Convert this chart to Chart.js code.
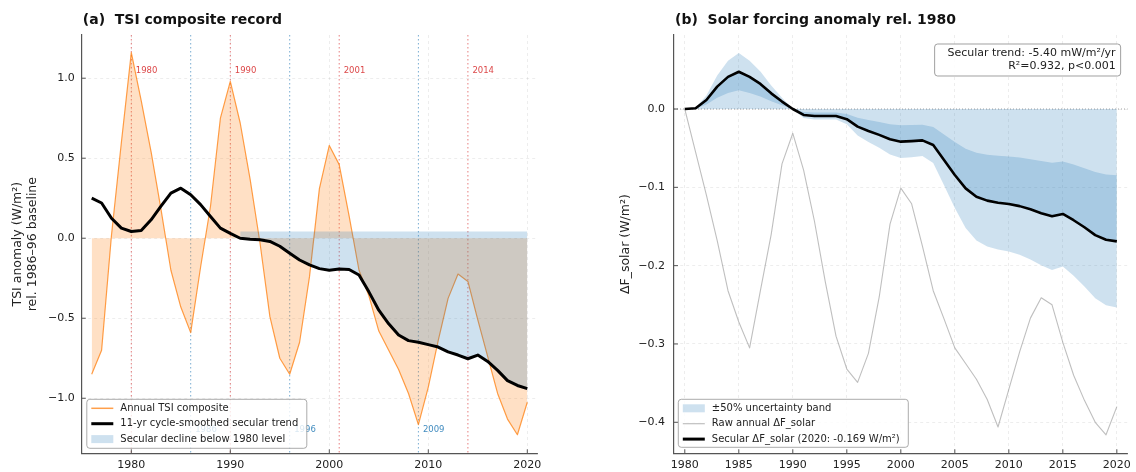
<!DOCTYPE html>
<html lang="en">
<head>
<meta charset="utf-8">
<title>TSI composite and solar forcing</title>
<script src="https://cdn.jsdelivr.net/npm/chart.js@4.4.1/dist/chart.umd.min.js"></script>
<style>
  html, body { margin: 0; padding: 0; background: #fff; }
  #wrap { position: relative; width: 1136px; height: 472px; overflow: hidden; }
  #wrap canvas { position: absolute; top: 0; }
  #chartA { left: 0; }
  #chartB { left: 560px; }
</style>
</head>
<body>
<div id="wrap">
  <canvas id="chartA" width="560" height="472"></canvas>
  <canvas id="chartB" width="576" height="472"></canvas>
</div>

<script>
// ---- panel (a): TSI composite, W/m2 relative to the 1986-96 baseline
const tsiYears = [1976, 1977, 1978, 1979, 1980, 1981, 1982, 1983, 1984, 1985,
  1986, 1987, 1988, 1989, 1990, 1991, 1992, 1993, 1994, 1995,
  1996, 1997, 1998, 1999, 2000, 2001, 2002, 2003, 2004, 2005,
  2006, 2007, 2008, 2009, 2010, 2011, 2012, 2013, 2014, 2015,
  2016, 2017, 2018, 2019, 2020];
const tsiAnnual = [-0.85, -0.70, 0.02, 0.60, 1.16, 0.86, 0.54, 0.18, -0.20, -0.43,
  -0.59, -0.18, 0.20, 0.75, 0.98, 0.72, 0.37, -0.03, -0.49, -0.75,
  -0.85, -0.65, -0.24, 0.31, 0.58, 0.46, 0.14, -0.20, -0.36, -0.58,
  -0.70, -0.82, -0.97, -1.165, -0.93, -0.64, -0.376, -0.224, -0.27, -0.51,
  -0.74, -0.97, -1.13, -1.228, -1.025];
const tsiSecular = [0.25, 0.22, 0.125, 0.063, 0.042, 0.048, 0.115, 0.20, 0.282, 0.313,
  0.272, 0.21, 0.136, 0.063, 0.03, 0.0, -0.006, -0.01, -0.02, -0.05,
  -0.094, -0.136, -0.167, -0.19, -0.20, -0.193, -0.195, -0.23, -0.335, -0.45,
  -0.535, -0.605, -0.64, -0.65, -0.665, -0.68, -0.71, -0.73, -0.753, -0.73,
  -0.77, -0.826, -0.89, -0.92, -0.94];
const cycleMaxYears = [1980, 1990, 2001, 2014];
const cycleMinYears = [1986, 1996, 2009];
const declineFrom = 1991;
const leftXTicks = [1980, 1990, 2000, 2010, 2020];
const leftYTicks = [-1.0, -0.5, 0.0, 0.5, 1.0];

// ---- panel (b): solar forcing anomaly, W/m2 relative to 1980
const dfYears = [1980, 1981, 1982, 1983, 1984, 1985, 1986, 1987, 1988, 1989,
  1990, 1991, 1992, 1993, 1994, 1995, 1996, 1997, 1998, 1999,
  2000, 2001, 2002, 2003, 2004, 2005, 2006, 2007, 2008, 2009,
  2010, 2011, 2012, 2013, 2014, 2015, 2016, 2017, 2018, 2019, 2020];
const dfRaw = [0.0, -0.055, -0.11, -0.168, -0.232, -0.272, -0.305, -0.232, -0.16, -0.07,
  -0.031, -0.078, -0.143, -0.22, -0.29, -0.332, -0.349, -0.312, -0.24, -0.147,
  -0.101, -0.121, -0.175, -0.232, -0.268, -0.305, -0.325, -0.345, -0.371, -0.406,
  -0.358, -0.31, -0.267, -0.241, -0.25, -0.298, -0.34, -0.372, -0.40, -0.416, -0.38];
const dfSecular = [0.0, 0.001, 0.0115, 0.0286, 0.041, 0.0476, 0.041, 0.032, 0.020, 0.0095,
  0.0, -0.0076, -0.009, -0.009, -0.009, -0.013, -0.0225, -0.028, -0.033, -0.0387,
  -0.0417, -0.041, -0.040, -0.046, -0.065, -0.0843, -0.1013, -0.112, -0.117, -0.1196,
  -0.1213, -0.124, -0.128, -0.133, -0.137, -0.134, -0.142, -0.151, -0.161, -0.167, -0.169];
const rightXTicks = [1980, 1985, 1990, 1995, 2000, 2005, 2010, 2015, 2020];
const rightYTicks = [-0.4, -0.3, -0.2, -0.1, 0.0];
const trendNote = ['Secular trend: -5.40 mW/m\u00b2/yr', 'R\u00b2=0.932, p<0.001'];

const FONT = 'DejaVu Sans';
const BLUE_FILL = 'rgba(31,119,180,0.22)';
Chart.defaults.font.family = FONT;
Chart.defaults.color = '#222';

const pts = (xs, ys) => xs.map((x, i) => ({ x: x, y: ys[i] }));
const fmt1 = v => (Math.abs(v) < 1e-9 ? '0.0' : v.toFixed(1).replace('-', '\u2212'));

// 1980 level of the smoothed curve, and the part of the curve that sits below it
const level1980 = tsiSecular[tsiYears.indexOf(1980)];
const declineYears = tsiYears.filter(yr => yr >= declineFrom);
const declineTrend = declineYears.map(yr => tsiSecular[tsiYears.indexOf(yr)]);
const declineLevel = declineYears.map(() => level1980);

// ±50% band round the secular forcing, as labelled in the legend
const bandLow = dfSecular.map(v => v * 0.5);
const bandHigh = dfSecular.map(v => v * 1.5);

function axisOpts(ticks, extra) {
  return Object.assign({
    type: 'linear',
    afterBuildTicks: s => { s.ticks = ticks.map(v => ({ value: v })); },
    grid: { color: 'rgba(0,0,0,0.09)', lineWidth: 0.8, drawTicks: false },
    border: { display: true, color: '#555', width: 1.2, dash: [3, 3] },
  }, extra);
}

function innerTicks(chart) {
  const { ctx, chartArea: a, scales: { x, y } } = chart;
  ctx.save();
  ctx.strokeStyle = '#555';
  ctx.lineWidth = 1;
  ctx.beginPath();
  x.ticks.forEach(t => {
    const px = x.getPixelForValue(t.value);
    ctx.moveTo(px, a.bottom); ctx.lineTo(px, a.bottom - 4);
  });
  y.ticks.forEach(t => {
    const py = y.getPixelForValue(t.value);
    ctx.moveTo(a.left, py); ctx.lineTo(a.left + 4, py);
  });
  ctx.stroke();
  ctx.restore();
}

function panelTitle(chart, text) {
  const ctx = chart.ctx;
  ctx.save();
  ctx.font = 'bold 14px ' + FONT;
  ctx.fillStyle = '#111';
  ctx.textBaseline = 'middle';
  ctx.fillText(text, chart.chartArea.left + 1, 20);
  ctx.restore();
}

function legendBox(ctx, x, y, w, h, items) {
  ctx.save();
  ctx.beginPath();
  ctx.roundRect(x, y, w, h, 3);
  ctx.fillStyle = 'rgba(255,255,255,0.8)';
  ctx.fill();
  ctx.strokeStyle = 'rgba(150,150,150,0.8)';
  ctx.lineWidth = 1;
  ctx.stroke();
  ctx.font = '10px ' + FONT;
  ctx.textBaseline = 'middle';
  items.forEach((it, i) => {
    const cy = y + 9 + i * 15.4;
    const hx = x + 4.5;
    if (it.patch) {
      ctx.fillStyle = it.color;
      ctx.fillRect(hx, cy - 4, 22, 8);
    } else {
      ctx.strokeStyle = it.color;
      ctx.lineWidth = it.width;
      ctx.beginPath(); ctx.moveTo(hx, cy); ctx.lineTo(hx + 22, cy); ctx.stroke();
    }
    ctx.fillStyle = '#222';
    ctx.fillText(it.text, x + 33.5, cy);
  });
  ctx.restore();
}

const leftDecor = {
  id: 'leftDecor',
  beforeDatasetsDraw(chart) {
    const { ctx, chartArea: a, scales: { x, y } } = chart;
    ctx.save();
    ctx.beginPath(); ctx.rect(a.left, a.top, a.right - a.left, a.bottom - a.top); ctx.clip();
    ctx.lineWidth = 1;
    ctx.setLineDash([1.5, 2.5]);
    const vline = (yr, col) => {
      const px = x.getPixelForValue(yr);
      ctx.strokeStyle = col;
      ctx.beginPath(); ctx.moveTo(px, a.top); ctx.lineTo(px, a.bottom); ctx.stroke();
    };
    cycleMaxYears.forEach(yr => vline(yr, 'rgba(214,39,40,0.6)'));
    cycleMinYears.forEach(yr => vline(yr, 'rgba(31,119,180,0.6)'));
    ctx.setLineDash([]);
    ctx.font = '8.5px ' + FONT;
    ctx.textBaseline = 'middle';
    ctx.fillStyle = 'rgba(214,39,40,0.85)';
    cycleMaxYears.forEach(yr => ctx.fillText(String(yr), x.getPixelForValue(yr) + 4.5, y.getPixelForValue(1.045)));
    ctx.fillStyle = 'rgba(31,119,180,0.85)';
    cycleMinYears.forEach(yr => ctx.fillText(String(yr), x.getPixelForValue(yr) + 4.5, y.getPixelForValue(-1.2)));
    ctx.restore();
  },
  afterDatasetsDraw(chart) { innerTicks(chart); },
  afterDraw(chart) {
    const a = chart.chartArea;
    const ds = chart.data.datasets;
    panelTitle(chart, '(a)  TSI composite record');
    legendBox(chart.ctx, a.left + 5, a.bottom - 54, 220, 49, [
      { text: ds[3].label, color: 'rgba(255,127,14,0.75)', width: 1.5 },
      { text: ds[0].label, color: '#000', width: 3 },
      { text: ds[1].label, color: BLUE_FILL, patch: true }
    ]);
  }
};

const rightDecor = {
  id: 'rightDecor',
  beforeDatasetsDraw(chart) {
    const { ctx, chartArea: a, scales: { y } } = chart;
    const py = y.getPixelForValue(0);
    ctx.save();
    ctx.strokeStyle = 'rgba(110,110,110,0.7)';
    ctx.lineWidth = 0.9;
    ctx.setLineDash([1, 2]);
    ctx.beginPath(); ctx.moveTo(a.left, py); ctx.lineTo(a.right, py); ctx.stroke();
    ctx.restore();
  },
  afterDatasetsDraw(chart) { innerTicks(chart); },
  afterDraw(chart) {
    const { ctx, chartArea: a } = chart;
    const ds = chart.data.datasets;
    panelTitle(chart, '(b)  Solar forcing anomaly rel. 1980');
    legendBox(ctx, a.left + 4.3, a.bottom - 54, 230, 48, [
      { text: ds[2].label, color: BLUE_FILL, patch: true },
      { text: ds[1].label, color: 'rgba(128,128,128,0.5)', width: 1.2 },
      { text: ds[0].label, color: '#000', width: 3 }
    ]);
    // trend annotation, top right
    const bw = 186, bh = 32, bx = a.right - 7 - bw, by = a.top + 9;
    ctx.save();
    ctx.beginPath();
    ctx.roundRect(bx, by, bw, bh, 3);
    ctx.fillStyle = 'rgba(255,255,255,0.85)';
    ctx.fill();
    ctx.strokeStyle = 'rgba(150,150,150,0.9)';
    ctx.lineWidth = 1;
    ctx.stroke();
    ctx.font = '11px ' + FONT;
    ctx.fillStyle = '#222';
    ctx.textAlign = 'right';
    ctx.textBaseline = 'middle';
    ctx.fillText(trendNote[0], bx + bw - 5, by + 9.5);
    ctx.fillText(trendNote[1], bx + bw - 5, by + 22);
    ctx.restore();
  }
};

new Chart(document.getElementById('chartA'), {
  type: 'line',
  data: {
    datasets: [
      { label: '11-yr cycle-smoothed secular trend', data: pts(tsiYears, tsiSecular),
        borderColor: '#000', borderWidth: 3, fill: false },
      { label: 'Secular decline below 1980 level', data: pts(declineYears, declineTrend),
        borderColor: 'transparent', borderWidth: 0, backgroundColor: BLUE_FILL, fill: '+1' },
      { label: '1980 level', data: pts(declineYears, declineLevel),
        borderColor: 'transparent', borderWidth: 0, fill: false },
      { label: 'Annual TSI composite', data: pts(tsiYears, tsiAnnual),
        borderColor: 'rgba(255,127,14,0.75)', borderWidth: 1.2,
        backgroundColor: 'rgba(255,127,14,0.24)', fill: { value: 0 } }
    ]
  },
  options: {
    responsive: false,
    animation: false,
    layout: { padding: { left: 0, right: 22.8, top: 35, bottom: 0 } },
    elements: { line: { tension: 0, borderJoinStyle: 'round' }, point: { radius: 0 } },
    plugins: { legend: { display: false }, tooltip: { enabled: false } },
    scales: {
      x: axisOpts(leftXTicks, {
        min: 1975, max: 2021,
        afterFit: s => { s.height = 18.7; },
        ticks: { font: { size: 11 }, color: '#222', padding: 5, maxRotation: 0, callback: v => String(v) }
      }),
      y: axisOpts(leftYTicks, {
        min: -1.344, max: 1.27,
        afterFit: s => { s.width = 81.8; },
        ticks: { font: { size: 11 }, color: '#222', padding: 7, callback: v => fmt1(v) },
        title: { display: true, text: ['TSI anomaly (W/m\u00b2)', 'rel. 1986\u201396 baseline'],
                 font: { size: 12.5 }, color: '#222', padding: { top: 10, bottom: 0 } }
      })
    }
  },
  plugins: [leftDecor]
});

new Chart(document.getElementById('chartB'), {
  type: 'line',
  data: {
    datasets: [
      { label: 'Secular \u0394F_solar (2020: -0.169 W/m\u00b2)', data: pts(dfYears, dfSecular),
        borderColor: '#000', borderWidth: 2.6, fill: false },
      { label: 'Raw annual \u0394F_solar', data: pts(dfYears, dfRaw),
        borderColor: 'rgba(128,128,128,0.5)', borderWidth: 1.1, fill: false },
      { label: '\u00b150% uncertainty band', data: pts(dfYears, bandLow),
        borderColor: 'transparent', borderWidth: 0, backgroundColor: BLUE_FILL, fill: '+1' },
      { label: 'band edge', data: pts(dfYears, bandHigh),
        borderColor: 'transparent', borderWidth: 0, fill: false },
      { label: 'secular area', data: pts(dfYears, dfSecular),
        borderColor: 'transparent', borderWidth: 0, backgroundColor: BLUE_FILL, fill: { value: 0 } }
    ]
  },
  options: {
    responsive: false,
    animation: false,
    layout: { padding: { left: 0, right: 7, top: 35, bottom: 0 } },
    elements: { line: { tension: 0, borderJoinStyle: 'round' }, point: { radius: 0 } },
    plugins: { legend: { display: false }, tooltip: { enabled: false } },
    scales: {
      x: axisOpts(rightXTicks, {
        min: 1979, max: 2021,
        afterFit: s => { s.height = 18.7; },
        ticks: { font: { size: 11 }, color: '#222', padding: 5, maxRotation: 0, callback: v => String(v) }
      }),
      y: axisOpts(rightYTicks, {
        min: -0.4396, max: 0.0945,
        afterFit: s => { s.width = 114; },
        ticks: { font: { size: 11 }, color: '#222', padding: 9, callback: v => fmt1(v) },
        title: { display: true, text: '\u0394F_solar (W/m\u00b2)',
                 font: { size: 12.5 }, color: '#222', padding: { top: 58, bottom: 0 } }
      })
    }
  },
  plugins: [rightDecor]
});
</script>
</body>
</html>
